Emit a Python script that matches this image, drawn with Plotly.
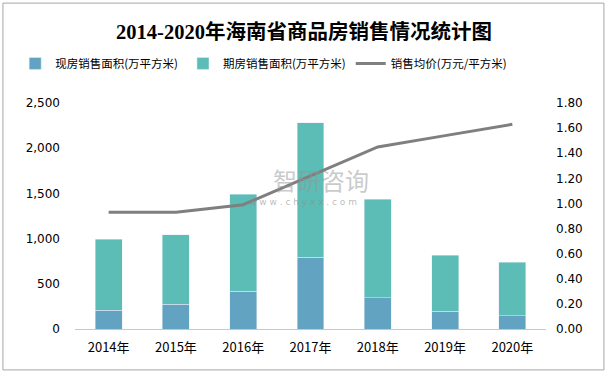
import plotly.graph_objects as go

years = ["2014年", "2015年", "2016年", "2017年", "2018年", "2019年", "2020年"]
existing_area = [210, 276, 420, 796, 343, 199, 144]
future_area = [785, 764, 1073, 1483, 1095, 619, 597]
avg_price = [0.93, 0.93, 0.99, 1.22, 1.45, 1.54, 1.63]

fig = go.Figure()
fig.add_trace(go.Bar(x=years, y=existing_area, name="现房销售面积(万平方米)",
                     marker_color="#62A3C2", width=0.4))
fig.add_trace(go.Bar(x=years, y=future_area, name="期房销售面积(万平方米)",
                     marker_color="#5BBDB5", width=0.4))
fig.add_trace(go.Scatter(x=years, y=avg_price, name="销售均价(万元/平方米)", yaxis="y2",
                         mode="lines", line=dict(color="#7F7F7F", width=3)))

fig.update_layout(
    width=608, height=375, barmode="stack",
    paper_bgcolor="white", plot_bgcolor="white",
    margin=dict(l=75, r=62, t=103, b=46, autoexpand=False),
    font=dict(family="DejaVu Sans, Noto Sans CJK SC", size=12, color="#000000"),
    title=dict(text="<b>2014-2020年海南省商品房销售情况统计图</b>", x=0.5, xanchor="center",
               y=0.915, yanchor="middle",
               font=dict(family="Liberation Serif, Noto Sans CJK SC", size=20.5, color="#000")),
    legend=dict(orientation="h", x=-0.127, xanchor="left", y=1.175, yanchor="middle",
                font=dict(size=11.5, family="Noto Sans CJK SC"), itemwidth=30,
                traceorder="normal"),
    xaxis=dict(showgrid=False, showline=True, linecolor="#C8C8C8", linewidth=1, automargin=False,
               ticks="", ticklabelstandoff=6, tickfont=dict(size=13, family="Noto Sans CJK SC")),
    yaxis=dict(range=[0, 2500], dtick=500, tickformat=",", showgrid=False, zeroline=False,
               automargin=False, showline=False, ticks="", ticklabelstandoff=14,
               tickfont=dict(size=12)),
    yaxis2=dict(range=[0, 1.8], dtick=0.2, tickformat=".2f", overlaying="y", side="right",
                automargin=False, showgrid=False, zeroline=False, showline=False, ticks="",
                ticklabelstandoff=9, tickfont=dict(size=12)),
    shapes=[dict(type="rect", xref="paper", yref="paper", x0=-0.153, x1=1.123, y0=-0.181, y1=1.442,
                 line=dict(color="#A6A6A6", width=1))],
    annotations=[
        dict(text="智研咨询", xref="paper", yref="paper", x=0.522, y=0.66, showarrow=False,
             font=dict(size=24, color="rgba(150,150,150,0.5)", family="Noto Sans CJK SC")),
        dict(text="w w w . c h y x x . c o m", xref="paper", yref="paper", x=0.484, y=0.56,
             showarrow=False, font=dict(size=9, color="rgba(140,140,140,0.6)")),
    ],
)

fig.write_html("out.html", config={"displayModeBar": False},
               post_script="document.body.style.margin='0';")
